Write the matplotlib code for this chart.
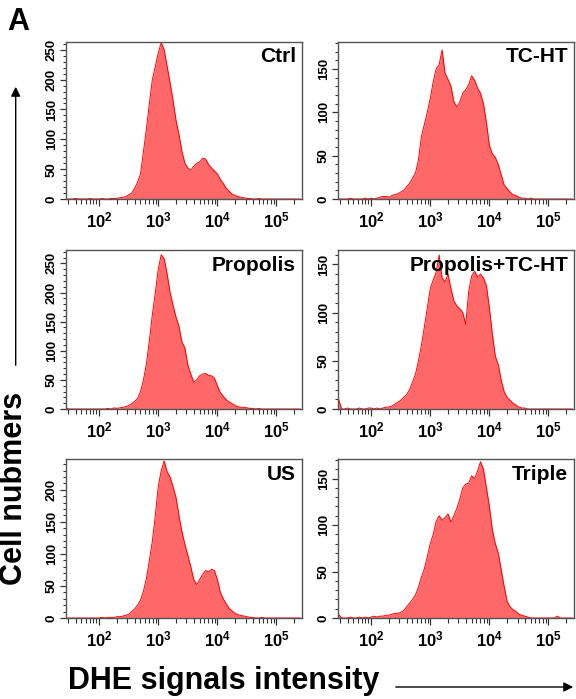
import numpy as np
import matplotlib
matplotlib.use('Agg')
from matplotlib import pyplot as plt
from matplotlib.ticker import MultipleLocator, LogLocator, NullFormatter
from matplotlib.patches import FancyArrowPatch

plt.rcParams['font.family'] = ['Liberation Sans', 'DejaVu Sans']
plt.rcParams['font.weight'] = 'bold'
plt.rcParams['mathtext.fontset'] = 'custom'
plt.rcParams['mathtext.bf'] = 'Liberation Sans:bold'
plt.rcParams['mathtext.rm'] = 'Liberation Sans:bold'
plt.rcParams['mathtext.default'] = 'bf'

# bin centres of the DHE histograms (log10 of intensity)
log_bins = np.round(np.arange(1.45, 5.401, 0.05), 2)

ctrl = [0, 0, 0, 1, 0, 0, 0, 0, 1, 0, 0,
        0, 1, 0, 0, 1, 1, 1, 2, 3, 4,
        7, 10, 18, 28, 42, 80, 118, 160, 200, 222,
        245, 262, 250, 222, 195, 165, 132, 108, 80, 60,
        52, 48, 55, 60, 62, 68, 67, 58, 52, 47,
        42, 33, 26, 18, 13, 8, 6, 4, 3, 2,
        1, 1, 0, 0, 1, 0, 0, 0, 0, 0,
        0, 0, 0, 0, 0, 0, 0, 0, 0]

tc_ht = [0, 0, 0, 0, 1, 0, 0, 0, 0, 1, 0,
         1, 0, 1, 2, 3, 3, 2, 4, 5, 6,
         8, 10, 14, 18, 24, 30, 45, 72, 86, 100,
         116, 135, 150, 155, 172, 145, 138, 130, 112, 106,
         112, 122, 126, 132, 142, 137, 128, 122, 110, 88,
         62, 52, 48, 40, 28, 16, 12, 8, 5, 4,
         2, 1, 1, 0, 1, 0, 0, 0, 0, 0,
         0, 0, 0, 0, 0, 0, 0, 0, 0]

propolis = [1, 0, 0, 0, 0, 0, 0, 0, 0, 0, 0,
            0, 0, 0, 1, 0, 2, 1, 2, 3, 4,
            6, 9, 13, 18, 30, 50, 78, 118, 162, 200,
            240, 265, 258, 232, 200, 178, 158, 142, 115, 105,
            76, 60, 46, 50, 57, 60, 61, 58, 57, 53,
            40, 28, 22, 16, 12, 9, 6, 4, 3, 3,
            2, 1, 1, 0, 1, 0, 0, 0, 0, 0,
            0, 0, 0, 0, 0, 0, 0, 0, 0]

propolis_tc_ht = [10, 0, 0, 1, 0, 0, 0, 1, 0, 0, 1,
                  1, 0, 1, 0, 1, 2, 2, 3, 5, 7,
                  9, 12, 15, 20, 28, 36, 50, 66, 85, 105,
                  125, 134, 142, 160, 136, 132, 140, 125, 112, 107,
                  104, 100, 88, 122, 138, 143, 137, 140, 136, 128,
                  105, 78, 55, 46, 30, 18, 12, 9, 6, 4,
                  2, 1, 1, 0, 0, 0, 0, 0, 0, 0,
                  0, 0, 0, 0, 0, 0, 0, 0, 0]

us = [0, 0, 0, 0, 0, 0, 0, 0, 0, 0, 0,
      0, 1, 0, 1, 1, 1, 2, 2, 3, 4,
      6, 10, 14, 20, 28, 42, 62, 90, 120, 160,
      205, 230, 245, 228, 220, 205, 188, 160, 135, 115,
      98, 80, 60, 52, 60, 68, 74, 72, 76, 74,
      60, 40, 30, 22, 15, 11, 7, 5, 4, 3,
      2, 1, 1, 0, 0, 1, 0, 0, 0, 0,
      0, 0, 0, 0, 0, 0, 0, 0, 0]

triple = [4, 0, 0, 0, 1, 0, 0, 1, 0, 1, 0,
          1, 2, 1, 2, 2, 3, 3, 4, 5, 5,
          6, 8, 12, 16, 20, 25, 33, 44, 53, 66,
          80, 90, 104, 110, 105, 108, 112, 103, 110, 118,
          128, 140, 144, 145, 153, 150, 158, 168, 160, 140,
          120, 95, 80, 70, 52, 34, 18, 12, 9, 7,
          4, 3, 2, 1, 0, 0, 0, 0, 0, 0,
          0, 0, 0, 2, 0, 0, 0, 0, 0]

names = ['Ctrl', 'TC-HT', 'Propolis', 'Propolis+TC-HT', 'US', 'Triple']
series = [ctrl, tc_ht, propolis, propolis_tc_ht, us, triple]
y_tops = [263, 181, 273, 165, 248, 171]

fig = plt.figure(figsize=(5.76, 6.99), dpi=100)

W, H = 576, 699
lefts = [66, 338]
rows = [(42, 199), (250, 409), (459, 618)]
aw = 236

x = 10 ** log_bins
for k, (name, cnt, ytop) in enumerate(zip(names, series, y_tops)):
    r, c = divmod(k, 2)
    top, bot = rows[r]
    ax = fig.add_axes([lefts[c] / W, 1 - bot / H, aw / W, (bot - top) / H])
    cnt = np.array(cnt)
    ax.fill_between(x, cnt, color='#ff6868', lw=0)
    ax.plot(x, cnt, color='#ff0000', lw=0.7)
    ax.set_xscale('log')
    ax.set_xlim(27.5, 2.7e5)
    ax.set_ylim(0, ytop)
    ax.set_xticks([1e2, 1e3, 1e4, 1e5])
    ax.set_xticklabels([r'$10^{2}$', r'$10^{3}$', r'$10^{4}$', r'$10^{5}$'])
    ax.xaxis.set_minor_locator(LogLocator(base=10, subs=np.arange(2, 10)))
    ax.xaxis.set_minor_formatter(NullFormatter())
    ax.yaxis.set_major_locator(MultipleLocator(50))
    ax.yaxis.set_minor_locator(MultipleLocator(10))
    ax.tick_params(axis='x', which='major', length=5, width=0.9, pad=3,
                   labelsize=12, color='#333333')
    ax.tick_params(axis='x', which='minor', length=3.5, width=0.8, color='#333333')
    ax.tick_params(axis='y', which='major', length=4, width=0.9, pad=2,
                   labelsize=9.5, labelrotation=90, color='#333333')
    ax.tick_params(axis='y', which='minor', length=2.5, width=0.8, color='#333333')
    for lab in ax.get_yticklabels():
        lab.set_va('center')
    for sp in ax.spines.values():
        sp.set_color('#555555')
        sp.set_linewidth(1.0)
    ax.text(0.975, 0.965, name, transform=ax.transAxes, ha='right', va='top',
            fontsize=15, fontweight='bold')

fig.text(0.012, 0.99, 'A', fontsize=22, fontweight='bold', va='top', ha='left')
fig.text(14 / W, 1 - 488 / H, 'Cell nubmers', rotation=90, fontsize=22,
         fontweight='bold', ha='center', va='center')
fig.text(68 / W, 1 - 681 / H, 'DHE signals intensity', fontsize=22,
         fontweight='bold', ha='left', va='center')

up = FancyArrowPatch((15.7 / W, 1 - 368 / H), (15.7 / W, 1 - 84 / H),
                     transform=fig.transFigure, arrowstyle='-|>',
                     mutation_scale=14, lw=1.0, color='black')
right = FancyArrowPatch((393 / W, 1 - 687 / H), (576 / W, 1 - 687 / H),
                        transform=fig.transFigure, arrowstyle='-|>',
                        mutation_scale=14, lw=1.0, color='black')
fig.add_artist(up)
fig.add_artist(right)

fig.savefig('out.png', dpi=100)
